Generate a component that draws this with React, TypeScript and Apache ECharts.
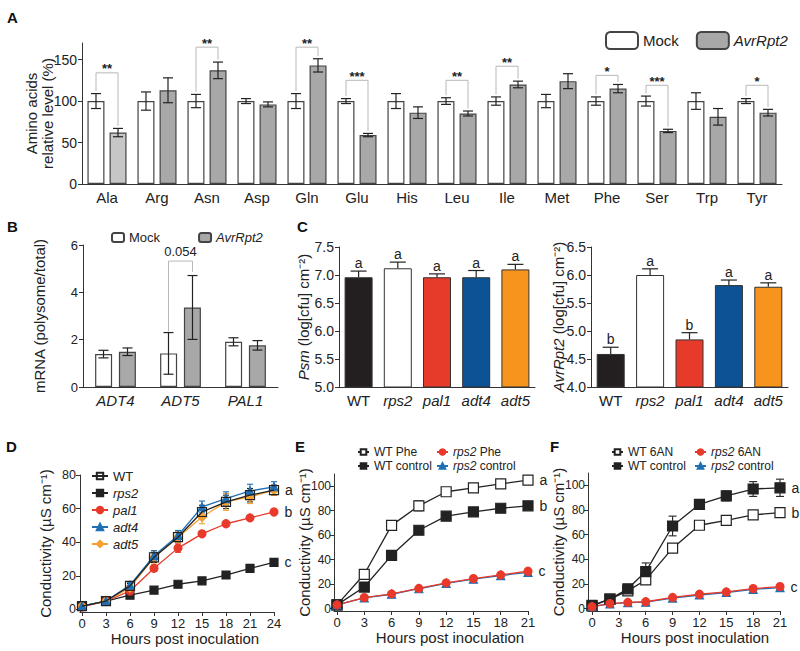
import React, { useEffect, useRef } from "react";
import * as echarts from "echarts";

const FONT = "'Liberation Sans', Arial, Helvetica, sans-serif";
const INK = "#222";
const AXIS = "#333";
const RED = "#e8392b";
const BLUE = "#1f6fb4";
const ORANGE = "#f5a133";

// ---------- Panel A ----------
const aminoAcids = ["Ala", "Arg", "Asn", "Asp", "Gln", "Glu", "His", "Leu", "Ile", "Met", "Phe", "Ser", "Trp", "Tyr"];
const mockLevel = [100, 100, 100, 100, 100, 100, 100, 100, 100, 100, 100, 100, 100, 100];
const mockLevelErr = [9, 11, 8, 3, 9, 3, 9, 4, 5, 8, 5, 6, 10, 3];
const avrLevel = [62, 113, 137, 96, 143, 59, 86, 85, 120, 124, 115, 64, 81, 86];
const avrLevelErr = [5, 15, 10, 3, 8, 2, 7, 3, 4, 9, 5, 2, 10, 4];
const aTicks = [0, 50, 100, 150];
// [category index, left leg end, right leg end, bracket top, label]
const sigBrackets: [number, number, number, number, string][] = [
  [0, 112, 70, 134, "**"],
  [2, 111, 150, 165, "**"],
  [4, 112, 154, 165, "**"],
  [5, 106, 64, 125, "***"],
  [7, 107, 91, 125, "**"],
  [8, 108, 127, 142, "**"],
  [10, 108, 123, 131, "*"],
  [11, 109, 69, 119, "***"],
  [13, 106, 93, 119, "*"],
];

// ---------- Panel B ----------
const genes = ["ADT4", "ADT5", "PAL1"];
const mockRatio = [1.39, 1.42, 1.91];
const mockRatioErr = [0.16, 0.88, 0.17];
const avrRatio = [1.49, 3.36, 1.76];
const avrRatioErr = [0.16, 1.35, 0.2];
const bBrackets: [number, number, number, number, string][] = [[1, 2.34, 4.86, 5.32, "0.054"]];

// ---------- Panel C ----------
const genotypes = ["WT", "rps2", "pal1", "adt4", "adt5"];
const genotypeColors = ["#231f20", "#ffffff", "#e63a2a", "#0b5394", "#f7941d"];
const psmGrowth = [6.96, 7.12, 6.96, 6.96, 7.1];
const psmGrowthErr = [0.11, 0.11, 0.06, 0.12, 0.09];
const psmLetters = ["a", "a", "a", "a", "a"];
const avrGrowth = [4.59, 6.0, 4.85, 5.82, 5.79];
const avrGrowthErr = [0.12, 0.11, 0.12, 0.09, 0.07];
const avrLetters = ["b", "a", "b", "a", "a"];

// ---------- Panel D ----------
const hoursD = [0, 3, 6, 9, 12, 15, 18, 21, 24];
const dWT = [2, 5, 14, 31, 43, 58, 64, 68, 71];
const dWTErr = [0.5, 0.5, 1.5, 3, 3, 4, 4, 4, 3];
const dRps2 = [2, 5, 8.5, 11.5, 15, 17, 20.5, 24.5, 28];
const dRps2Err = [0.3, 0.3, 0.5, 0.5, 0.5, 0.5, 0.5, 0.5, 0.5];
const dPal1 = [1.5, 5, 11, 24.5, 36.5, 45, 51, 54.5, 58];
const dPal1Err = [0.5, 0.5, 1, 1.5, 2.5, 1, 1, 1, 1];
const dAdt4 = [2, 5, 14.5, 32, 44, 61, 66, 70.5, 73];
const dAdt4Err = [0.5, 0.5, 1.5, 3, 3, 3.5, 4, 4, 3];
const dAdt5 = [2, 5, 13, 31, 43, 55, 64, 67, 71];
const dAdt5Err = [0.5, 0.5, 1.5, 4, 3, 4, 5, 4, 3];
const dXTicks = [0, 3, 6, 9, 12, 15, 18, 21, 24];
const dYTicks = [0, 20, 40, 60, 80];

// ---------- Panel E ----------
const hoursE = [0, 3, 6, 9, 12, 15, 18, 21];
const eWTPhe = [3, 28, 68, 84, 95.5, 98.6, 102, 105];
const eWTPheErr = [1, 2, 2, 4, 2, 1.5, 1.5, 1];
const eWTCtrl = [3, 17.6, 43.5, 64, 75.5, 79, 82, 84];
const eWTCtrlErr = [0.5, 2, 1.5, 2.5, 2, 1, 1, 1];
const eRps2Phe = [3, 9, 12, 16.5, 21, 24.5, 27.5, 30.5];
const eRps2Ctrl = [3, 8.7, 11.7, 16.2, 20.5, 24, 27, 29.5];
const eXTicks = [0, 3, 6, 9, 12, 15, 18, 21];
const eYTicks = [0, 20, 40, 60, 80, 100];

// ---------- Panel F ----------
const hoursF = [0, 2, 4, 6, 9, 12, 15, 18, 21];
const fWT6AN = [2.2, 7.6, 14.3, 23.2, 49, 67.6, 71.6, 76, 77.8];
const fWT6ANErr = [0.5, 1, 1, 2, 2, 1, 1, 1, 1];
const fWTCtrl = [2.5, 7.6, 16, 30, 67, 84.6, 91.4, 97, 98];
const fWTCtrlErr = [0.5, 1, 2, 7, 8, 3, 4, 6, 7];
const fRps26AN = [1.5, 4, 5, 5.5, 9, 11.6, 13.5, 16.2, 17.8];
const fRps2Ctrl = [1.5, 3.8, 4.8, 5.2, 8.5, 11, 13, 15.5, 17];
const fXTicks = [0, 3, 6, 9, 12, 15, 18, 21];
const fYTicks = [0, 20, 40, 60, 80, 100];

const ITALIC = new Set(["rps2", "pal1", "adt4", "adt5", "AvrRpt2", "ADT4", "ADT5", "PAL1", "Psm"]);
const ital = (s: string) => s.split(" ").map((w) => (ITALIC.has(w) ? `{i|${w}}` : w)).join(" ");
const richI = (size: number) => ({ i: { fontStyle: "italic", fontSize: size, fontFamily: FONT, color: INK } });

const txt = (size: number, extra: any = {}) => ({ fontSize: size, fontFamily: FONT, color: INK, ...extra });

function barErr(gi: number, vals: number[], errs: number[], offset: number, cap: number, upOnly: boolean, letters?: string[]) {
  return {
    type: "custom",
    xAxisIndex: gi,
    yAxisIndex: gi,
    silent: true,
    z: 5,
    data: vals.map((v, i) => [i, v, errs[i]]),
    encode: { x: 0, y: 1 },
    renderItem: (params: any, api: any) => {
      const i = api.value(0);
      const v = api.value(1);
      const e = api.value(2);
      const p = api.coord([i, v]);
      const x = p[0] + offset;
      const yTop = api.coord([i, v + e])[1];
      const yBot = upOnly ? p[1] : api.coord([i, v - e])[1];
      const st = { stroke: INK, lineWidth: 1.2 };
      const children: any[] = [
        { type: "line", shape: { x1: x, y1: yTop, x2: x, y2: yBot }, style: st },
        { type: "line", shape: { x1: x - cap / 2, y1: yTop, x2: x + cap / 2, y2: yTop }, style: st },
      ];
      if (!upOnly) children.push({ type: "line", shape: { x1: x - cap / 2, y1: yBot, x2: x + cap / 2, y2: yBot }, style: st });
      if (letters) {
        children.push({
          type: "text",
          x,
          y: yTop - 1,
          style: { text: letters[params.dataIndex], align: "center", verticalAlign: "bottom", textAlign: "center", textVerticalAlign: "bottom", font: `14px ${FONT}`, fill: INK },
        });
      }
      return { type: "group", children };
    },
  };
}

function brackets(gi: number, list: [number, number, number, number, string][], half: number, font: string, textDy: number, vAlign: string) {
  return {
    type: "custom",
    xAxisIndex: gi,
    yAxisIndex: gi,
    silent: true,
    z: 6,
    data: list.map((b) => [b[0], b[3]]),
    encode: { x: 0, y: 1 },
    renderItem: (params: any, api: any) => {
      const b = list[params.dataIndex];
      const c = api.coord([b[0], b[3]]);
      const lx = c[0] - half;
      const rx = c[0] + half;
      const yL = api.coord([b[0], b[1]])[1];
      const yR = api.coord([b[0], b[2]])[1];
      return {
        type: "group",
        children: [
          { type: "polyline", shape: { points: [[lx, yL], [lx, c[1]], [rx, c[1]], [rx, yR]] }, style: { stroke: "#b8b8b8", lineWidth: 1, fill: null } },
          { type: "text", x: c[0], y: c[1] - textDy, style: { text: b[4], align: "center", verticalAlign: vAlign, textAlign: "center", textVerticalAlign: vAlign, font, fill: INK } },
        ],
      };
    },
  };
}

function lineErr(gi: number, xs: number[], ys: number[], es: number[], color: string, cap = 6) {
  return {
    type: "custom",
    xAxisIndex: gi,
    yAxisIndex: gi,
    silent: true,
    z: 2,
    data: xs.map((x, i) => [x, ys[i], es[i]]),
    encode: { x: 0, y: 1 },
    renderItem: (params: any, api: any) => {
      const x = api.value(0);
      const y = api.value(1);
      const e = api.value(2);
      const t = api.coord([x, y + e]);
      const b = api.coord([x, y - e]);
      const st = { stroke: color, lineWidth: 1.1 };
      return {
        type: "group",
        children: [
          { type: "line", shape: { x1: t[0], y1: t[1], x2: b[0], y2: b[1] }, style: st },
          { type: "line", shape: { x1: t[0] - cap / 2, y1: t[1], x2: t[0] + cap / 2, y2: t[1] }, style: st },
          { type: "line", shape: { x1: b[0] - cap / 2, y1: b[1], x2: b[0] + cap / 2, y2: b[1] }, style: st },
        ],
      };
    },
  };
}

function lineS(gi: number, name: string, xs: number[], ys: number[], o: { symbol: string; size: number; color: string; fill: string; letter?: string; z?: number }) {
  return {
    type: "line",
    name,
    xAxisIndex: gi,
    yAxisIndex: gi,
    symbol: o.symbol,
    symbolSize: o.size,
    showAllSymbol: true,
    z: o.z ?? 3,
    lineStyle: { color: o.color, width: 1.3 },
    itemStyle: { color: o.fill, borderColor: o.color, borderWidth: 1.2 },
    data: xs.map((x, i) =>
      i === xs.length - 1 && o.letter
        ? { value: [x, ys[i]], label: { show: true, position: "right", distance: 6, formatter: o.letter, ...txt(14) } }
        : [x, ys[i]]
    ),
  };
}

const axisLine = { show: true, onZero: false, lineStyle: { color: AXIS, width: 1 } };
const yTick = { show: true, length: 4, lineStyle: { color: AXIS } };

function valueY(gi: number, min: number, max: number, ticks: number[], name: string, nameGap: number, fontSize: number, margin: number, fmt?: (v: number) => string) {
  return {
    type: "value",
    gridIndex: gi,
    min,
    max,
    axisLine,
    splitLine: { show: false },
    axisTick: { ...yTick, customValues: ticks },
    axisLabel: { customValues: ticks, margin, ...txt(fontSize), formatter: fmt },
    name,
    nameLocation: "middle",
    nameRotate: 90,
    nameGap,
    nameMoveOverlap: false,
    nameTextStyle: { ...txt(15), lineHeight: 16, rich: richI(15) },
  };
}

function hoursX(gi: number, min: number, max: number, ticks: number[], shift: number) {
  return {
    type: "value",
    gridIndex: gi,
    min,
    max,
    axisLine,
    splitLine: { show: false },
    axisTick: { show: true, length: 4, customValues: ticks, lineStyle: { color: AXIS } },
    axisLabel: { customValues: ticks, margin: 5, ...txt(13) },
    name: "Hours post inoculation",
    nameLocation: "middle",
    nameGap: 19,
    nameMoveOverlap: false,
    nameTextStyle: { ...txt(15), padding: [0, 0, 0, shift * 2] },
  };
}

function catX(gi: number, data: string[], italicAll: boolean) {
  return {
    type: "category",
    gridIndex: gi,
    data,
    axisLine,
    axisTick: { show: false },
    axisLabel: {
      interval: 0,
      hideOverlap: false,
      margin: 6,
      ...txt(15),
      formatter: (v: string) => (italicAll ? `{i|${v}}` : ital(v)),
      rich: richI(15),
    },
  };
}

function buildOption(): any {
  const mockStyle = { color: "#ffffff", borderColor: "#444", borderWidth: 1.2 };
  const avrStyle = { color: "#a8a8a8", borderColor: "#444", borderWidth: 1.2 };

  const series: any[] = [
    // A
    { type: "bar", name: "Mock", xAxisIndex: 0, yAxisIndex: 0, barWidth: 17, barGap: "30%", itemStyle: mockStyle, data: mockLevel },
    {
      type: "bar",
      name: "AvrRpt2",
      xAxisIndex: 0,
      yAxisIndex: 0,
      barWidth: 17,
      barGap: "30%",
      itemStyle: avrStyle,
      data: avrLevel.map((v, i) => (i === 0 ? { value: v, itemStyle: { color: "#c6c6c6" } } : v)),
    },
    barErr(0, mockLevel, mockLevelErr, -11, 10, false),
    barErr(0, avrLevel, avrLevelErr, 11, 10, false),
    brackets(0, sigBrackets, 11, `bold 13px ${FONT}`, 4, "middle"),
    // B
    { type: "bar", name: "Mock", xAxisIndex: 1, yAxisIndex: 1, barWidth: 17, barGap: "40%", itemStyle: mockStyle, data: mockRatio },
    { type: "bar", name: "AvrRpt2", xAxisIndex: 1, yAxisIndex: 1, barWidth: 17, barGap: "40%", itemStyle: avrStyle, data: avrRatio },
    barErr(1, mockRatio, mockRatioErr, -12, 10, false),
    barErr(1, avrRatio, avrRatioErr, 12, 10, false),
    brackets(1, bBrackets, 12, `13px ${FONT}`, 3, "bottom"),
    // C
    {
      type: "bar",
      name: "Psm",
      xAxisIndex: 2,
      yAxisIndex: 2,
      barWidth: 28,
      data: psmGrowth.map((v, i) => ({ value: v, itemStyle: { color: genotypeColors[i], borderColor: "#333", borderWidth: 1 } })),
    },
    barErr(2, psmGrowth, psmGrowthErr, 0, 16, true, psmLetters),
    {
      type: "bar",
      name: "AvrGrowth",
      xAxisIndex: 3,
      yAxisIndex: 3,
      barWidth: 28,
      data: avrGrowth.map((v, i) => ({ value: v, itemStyle: { color: genotypeColors[i], borderColor: "#333", borderWidth: 1 } })),
    },
    barErr(3, avrGrowth, avrGrowthErr, 0, 16, true, avrLetters),
    // D
    lineErr(4, hoursD, dRps2, dRps2Err, INK),
    lineErr(4, hoursD, dPal1, dPal1Err, RED),
    lineErr(4, hoursD, dWT, dWTErr, INK),
    lineErr(4, hoursD, dAdt5, dAdt5Err, ORANGE),
    lineErr(4, hoursD, dAdt4, dAdt4Err, BLUE),
    lineS(4, "rps2", hoursD, dRps2, { symbol: "rect", size: 8, color: INK, fill: INK, letter: "c" }),
    lineS(4, "pal1", hoursD, dPal1, { symbol: "circle", size: 8, color: RED, fill: RED, letter: "b" }),
    lineS(4, "adt5", hoursD, dAdt5, { symbol: "diamond", size: 9, color: ORANGE, fill: ORANGE }),
    lineS(4, "adt4", hoursD, dAdt4, { symbol: "triangle", size: 8, color: BLUE, fill: BLUE }),
    lineS(4, "WT", hoursD, dWT, { symbol: "rect", size: 9, color: INK, fill: "rgba(255,255,255,0)", letter: "a", z: 4 }),
    // E
    lineErr(5, hoursE, eWTPhe, eWTPheErr, INK, 8),
    lineErr(5, hoursE, eWTCtrl, eWTCtrlErr, INK, 8),
    lineS(5, "WT Phe", hoursE, eWTPhe, { symbol: "rect", size: 10, color: INK, fill: "#fff", letter: "a" }),
    lineS(5, "WT control", hoursE, eWTCtrl, { symbol: "rect", size: 10, color: INK, fill: INK, letter: "b" }),
    lineS(5, "rps2 control", hoursE, eRps2Ctrl, { symbol: "triangle", size: 8, color: BLUE, fill: BLUE }),
    lineS(5, "rps2 Phe", hoursE, eRps2Phe, { symbol: "circle", size: 8, color: RED, fill: RED, letter: "c" }),
    // F
    lineErr(6, hoursF, fWT6AN, fWT6ANErr, INK, 8),
    lineErr(6, hoursF, fWTCtrl, fWTCtrlErr, INK, 8),
    lineS(6, "WT 6AN", hoursF, fWT6AN, { symbol: "rect", size: 10, color: INK, fill: "#fff", letter: "b" }),
    lineS(6, "WT control", hoursF, fWTCtrl, { symbol: "rect", size: 10, color: INK, fill: INK, letter: "a" }),
    lineS(6, "rps2 control", hoursF, fRps2Ctrl, { symbol: "triangle", size: 8, color: BLUE, fill: BLUE }),
    lineS(6, "rps2 6AN", hoursF, fRps26AN, { symbol: "circle", size: 8, color: RED, fill: RED, letter: "c" }),
  ];

  const legendBase = { selectedMode: false, formatter: ital };
  const smallLegend = (left: number, data: string[]) => ({
    ...legendBase,
    orient: "vertical",
    left,
    top: 440,
    itemWidth: 11,
    itemHeight: 7,
    itemGap: 0,
    data,
    textStyle: { ...txt(12), lineHeight: 14, rich: richI(12) },
  });

  return {
    animation: false,
    backgroundColor: "#ffffff",
    textStyle: { fontFamily: FONT },
    grid: [
      { left: 82, top: 43, width: 700, height: 141 },
      { left: 83, top: 245, width: 195, height: 142 },
      { left: 339, top: 247, width: 196, height: 140 },
      { left: 591, top: 247, width: 197, height: 140 },
      { left: 80, top: 475, width: 194, height: 137 },
      { left: 334, top: 474, width: 194, height: 137 },
      { left: 588, top: 473, width: 192, height: 138 },
    ],
    xAxis: [
      catX(0, aminoAcids, false),
      catX(1, genes, true),
      catX(2, genotypes, false),
      catX(3, genotypes, false),
      hoursX(4, -0.25, 24, dXTicks, 8),
      hoursX(5, -0.33, 21, eXTicks, 19),
      hoursX(6, -0.45, 21, fXTicks, 11),
    ],
    yAxis: [
      valueY(0, 0, 170, aTicks, "Amino acids\nrelative level (%)", 27, 14, 5),
      valueY(1, 0, 6, [0, 2, 4, 6], "mRNA (polysome/total)", 36, 13, 5),
      valueY(2, 5, 7.5, [5, 5.5, 6, 6.5, 7, 7.5], "{i|Psm} (log[cfu] cm⁻²)", 28, 14, 5, (v: number) => v.toFixed(1)),
      valueY(3, 4, 6.5, [4, 4.5, 5, 5.5, 6, 6.5], "{i|AvrRpt2} (log[cfu] cm⁻²)", 25, 14, 5, (v: number) => v.toFixed(1)),
      valueY(4, -1.5, 80, dYTicks, "Conductivity (µS cm⁻¹)", 27, 12.5, 4),
      valueY(5, -2, 110, eYTicks, "Conductivity (µS cm⁻¹)", 22, 12, 3),
      valueY(6, -2, 110, fYTicks, "Conductivity (µS cm⁻¹)", 22, 12, 3),
    ],
    legend: [
      { ...legendBase, left: 600, top: 26, itemWidth: 32, itemHeight: 17, itemGap: 17, data: ["Mock", "AvrRpt2"], textStyle: { ...txt(15), rich: richI(15) } },
      { ...legendBase, left: 106, top: 226, itemWidth: 12, itemHeight: 9, itemGap: 38, data: ["Mock", "AvrRpt2"], textStyle: { ...txt(13), rich: richI(13) } },
      { ...legendBase, orient: "vertical", left: 86, top: 464, itemWidth: 16, itemHeight: 8, itemGap: 3, data: ["WT", "rps2", "pal1", "adt4", "adt5"], textStyle: { ...txt(13), lineHeight: 14, rich: richI(13) } },
      smallLegend(352, ["WT Phe", "WT control"]),
      smallLegend(431, ["rps2 Phe", "rps2 control"]),
      smallLegend(606, ["WT 6AN", "WT control"]),
      smallLegend(689, ["rps2 6AN", "rps2 control"]),
    ],
    graphic: [
      ["A", 7, 10],
      ["B", 7, 219],
      ["C", 297, 219],
      ["D", 6, 439],
      ["E", 295, 439],
      ["F", 550, 439],
    ].map(([t, x, y]) => ({ type: "text", left: x, top: y, style: { text: t, font: `bold 15px ${FONT}`, fill: "#111" } })),
    series,
  };
}

export default function App() {
  const ref = useRef<HTMLDivElement>(null);
  useEffect(() => {
    const chart = echarts.init(ref.current!, null, { renderer: "svg" });
    chart.setOption(buildOption());
    return () => chart.dispose();
  }, []);
  return <div ref={ref} style={{ position: "absolute", left: 0, top: 0, width: 800, height: 651, background: "#fff" }} />;
}
